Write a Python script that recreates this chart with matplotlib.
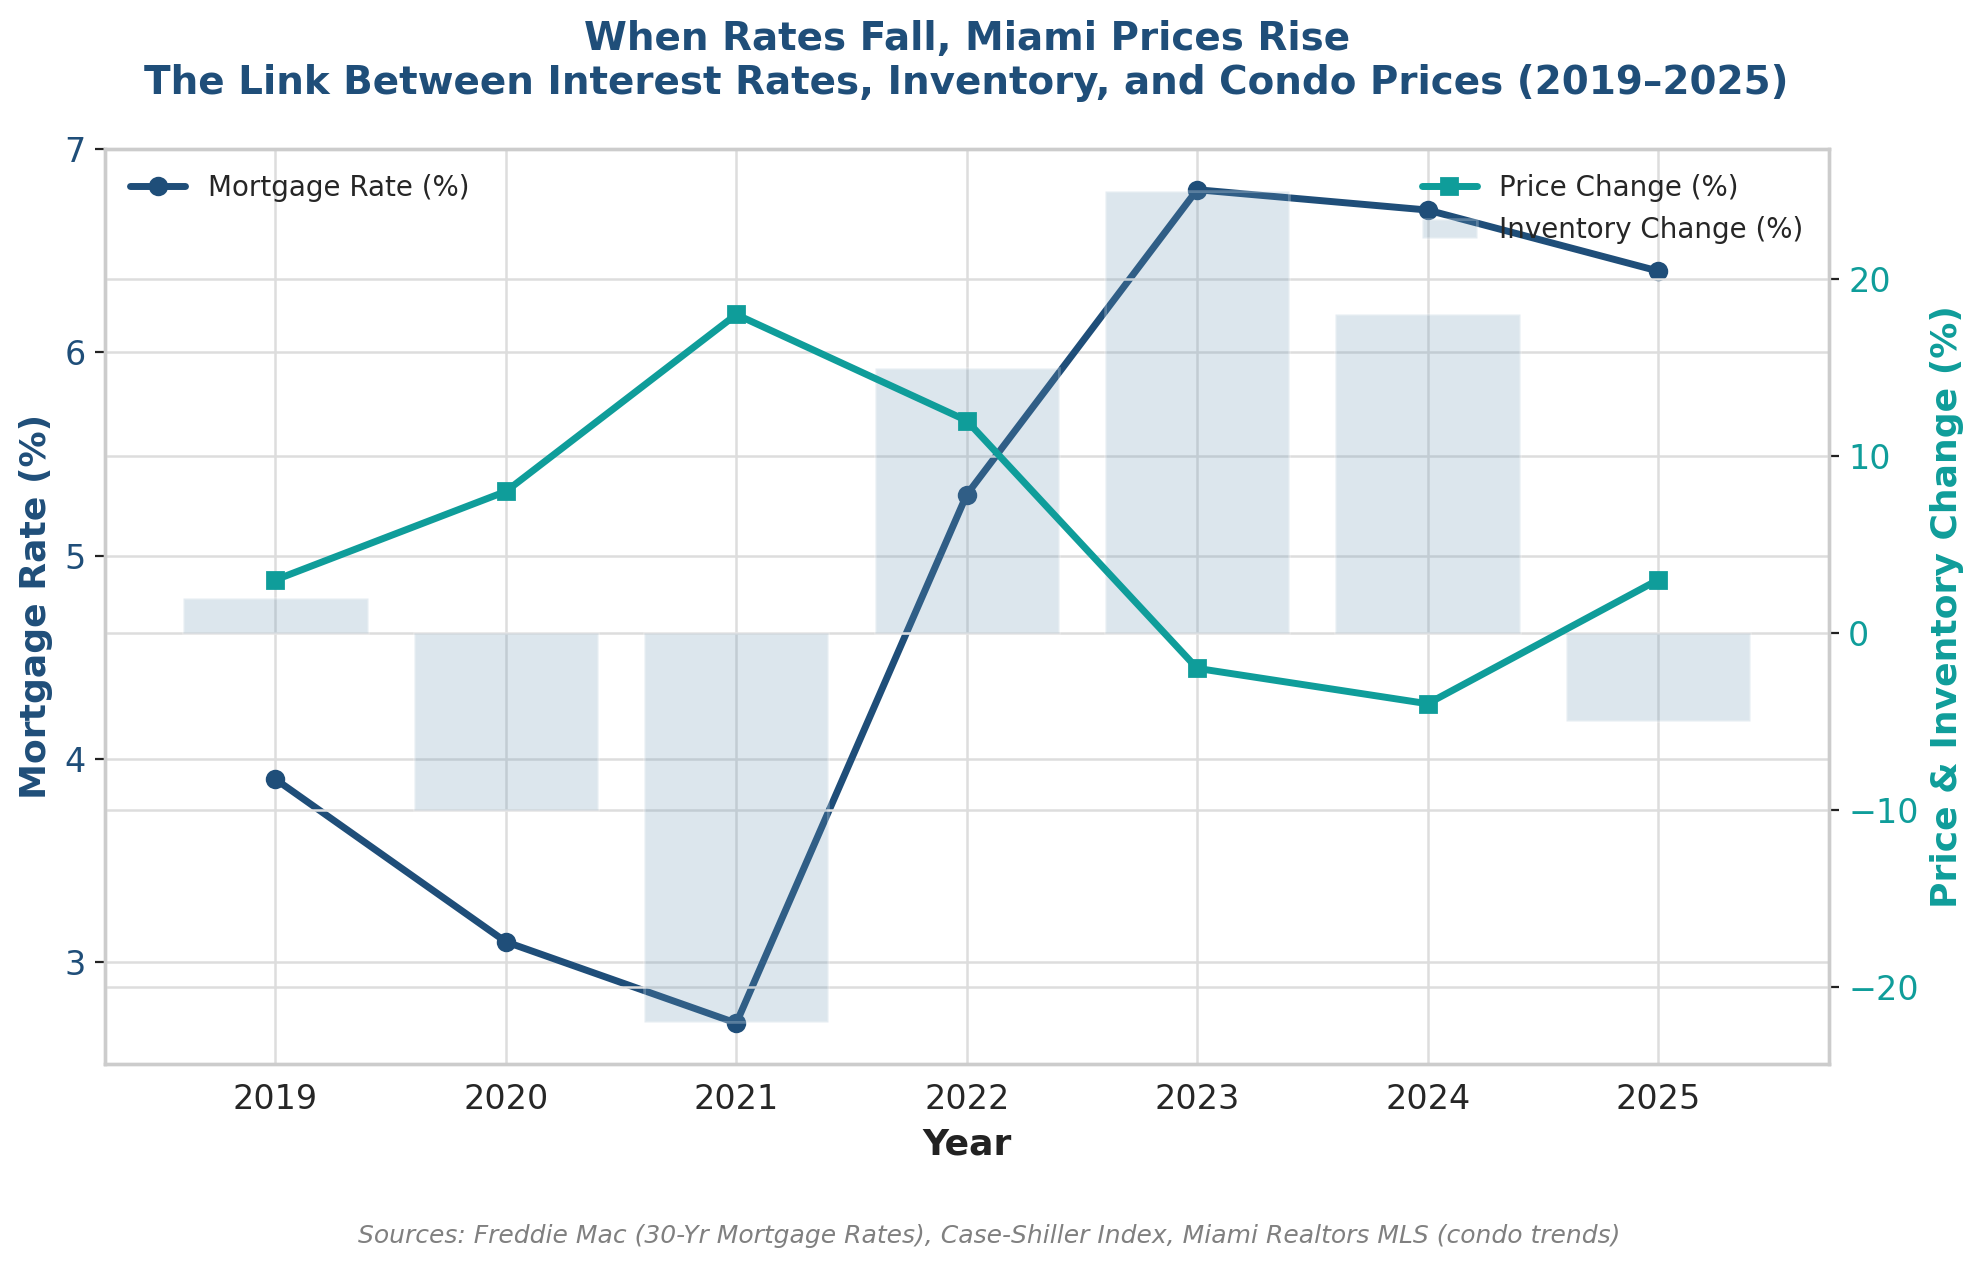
import numpy as np
import matplotlib.pyplot as plt
import seaborn as sns

years = [2019, 2020, 2021, 2022, 2023, 2024, 2025]
mortgage_rate = [3.9, 3.1, 2.7, 5.3, 6.8, 6.7, 6.4]
price_change = [3, 8, 18, 12, -2, -4, 3]
inventory_change = [2, -10, -22, 15, 25, 18, -5]

navy = '#1f4e79'
teal = '#0f9d9a'

sns.set_style("whitegrid")
plt.rcParams['font.family'] = ['DejaVu Sans']

fig, ax1 = plt.subplots(figsize=(1979 / 200, 1274 / 200), dpi=200)
fig.subplots_adjust(left=0.053, right=0.924, top=0.883, bottom=0.165)

ax1.plot(years, mortgage_rate, color=navy, marker='o', linewidth=2.5, markersize=6,
         label='Mortgage Rate (%)')
ax1.set_ylim(2.5, 7)
ax1.set_yticks([3, 4, 5, 6, 7])
ax1.set_xlabel('Year', fontsize=13, fontweight='bold', color='#222222')
ax1.set_ylabel('Mortgage Rate (%)', fontsize=13, fontweight='bold', color=navy)
ax1.tick_params(axis='y', labelcolor=navy, labelsize=12, length=3.5, color='#222222')
ax1.tick_params(axis='x', labelsize=12, labelcolor='#262626')
ax1.set_xticks(years)
ax1.grid(True, color='#dddddd', linewidth=0.9)

ax2 = ax1.twinx()
ax2.bar(years, inventory_change, width=0.8, color='#6b96b5', alpha=0.23,
        label='Inventory Change (%)')
ax2.plot(years, price_change, color=teal, marker='s', linewidth=2.5, markersize=6,
         label='Price Change (%)')
ax2.set_ylabel('Price & Inventory Change (%)', fontsize=13, fontweight='bold', color=teal)
ax2.tick_params(axis='y', labelcolor=teal, labelsize=12, length=3.5, color='#222222')
ax2.grid(True, color='#dddddd', linewidth=0.9)

for ax in (ax1, ax2):
    for s in ax.spines.values():
        s.set_color('#cccccc')
        s.set_linewidth(1.2)

ax1.legend(loc='upper left', frameon=False, fontsize=10)
ax2.legend(loc='upper right', frameon=False, fontsize=10)

ax1.set_title('When Rates Fall, Miami Prices Rise\n'
              'The Link Between Interest Rates, Inventory, and Condo Prices (2019\u20132025)',
              fontsize=14, fontweight='bold', color=navy, pad=20)
fig.text(0.5, 0.024, 'Sources: Freddie Mac (30-Yr Mortgage Rates), Case-Shiller Index, '
         'Miami Realtors MLS (condo trends)', ha='center', fontsize=9,
         style='italic', color='gray')

fig.savefig('out.png', dpi=200)
